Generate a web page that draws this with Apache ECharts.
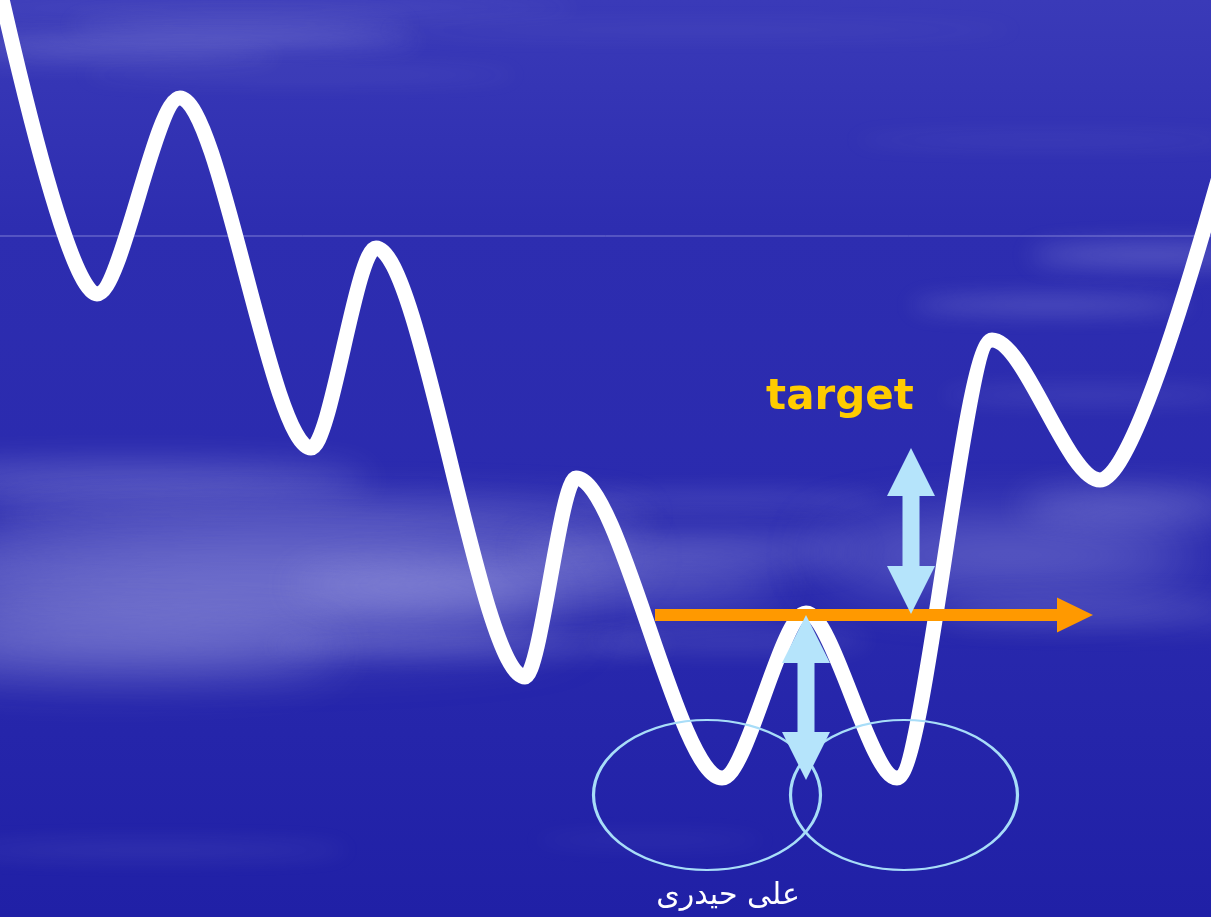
<!DOCTYPE html>
<html>
<head>
<meta charset="utf-8">
<script src="https://cdn.jsdelivr.net/npm/echarts@6/dist/echarts.min.js"></script>
<style>
html,body{margin:0;padding:0;background:#2a2ab0;}
#chart{width:1211px;height:917px;}
</style>
</head>
<body>
<div id="chart"></div>
<script>
// ---- data (chart units = picture pixels, y downward) ----
// turning points of the white curve (first and last lie just outside the frame)
const curveX = [-30, 97, 180, 311, 376, 525, 576, 722, 806, 897, 992, 1100, 1250];
const curveY = [-150, 294, 98, 448, 248, 677, 478, 778, 613, 778, 340, 480, 60];
const ruleY = 236;
const targetLevel = 615;
const targetRange = [655, 1093];
const upperGapX = 911;
const upperGap = [448, 614];
const lowerGapX = 806;
const lowerGap = [615, 780];
const basinX = [707, 904];
const basinY = [795, 795];
const labelTexts = ['target', 'علی حیدری'];
const labelX = [840, 728];
const labelY = [398, 896];

// ---- styles ----
const W = 1211, H = 917;
const curveData = curveX.map((x, i) => [x, curveY[i]]);
const orangeHead = 36, blueHead = 48;

function blueArrow(x, range) {
  return {
    type: 'line', z: 6, silent: true,
    data: [
      {value: [x, range[0] + blueHead / 2], symbol: 'triangle', symbolRotate: 0},
      {value: [x, range[1] - blueHead / 2], symbol: 'triangle', symbolRotate: 180}
    ],
    showSymbol: true, symbolSize: [48, blueHead],
    itemStyle: {color: '#b5e4fb', borderWidth: 0, opacity: 1},
    lineStyle: {color: '#b5e4fb', width: 17, cap: 'butt'}
  };
}

// soft cloud streaks (decoration)
const clouds = [
  [250, 8, 330, 5, 0.16], [240, 25, 170, 5, 0.22], [190, 41, 230, 6, 0.30], [120, 57, 160, 5, 0.20], [300, 75, 220, 5, 0.12],
  [700, 30, 320, 6, 0.08], [1050, 140, 200, 5, 0.10],
  [130, 480, 240, 14, 0.30], [320, 515, 330, 16, 0.22], [260, 555, 380, 22, 0.34], [230, 605, 330, 28, 0.50],
  [110, 650, 230, 22, 0.32], [540, 585, 250, 18, 0.30], [690, 550, 170, 14, 0.26], [720, 500, 160, 8, 0.16],
  [470, 645, 200, 10, 0.16], [730, 640, 140, 10, 0.14],
  [1150, 255, 120, 10, 0.26], [1050, 305, 140, 8, 0.22], [1090, 395, 150, 7, 0.14],
  [1010, 555, 190, 26, 0.36], [1130, 505, 110, 14, 0.28], [1100, 612, 160, 12, 0.18],
  [150, 850, 200, 8, 0.10], [650, 840, 120, 6, 0.07]
];
const graphics = clouds.map(c => ({
  type: 'ellipse', z: -10, silent: true,
  shape: {cx: c[0] - 4000, cy: c[1], rx: c[2], ry: c[3]},
  style: {fill: '#fff', shadowBlur: Math.max(22, c[3] * 2.4), shadowOffsetX: 4000, shadowColor: 'rgba(230,230,255,' + c[4] + ')'}
}));

const chart = echarts.init(document.getElementById('chart'), null, {renderer: 'canvas'});
chart.setOption({
  animation: false,
  backgroundColor: {
    type: 'linear', x: 0, y: 0, x2: 0, y2: 1,
    colorStops: [
      {offset: 0, color: '#3a3ab8'},
      {offset: 0.25, color: '#2d2db0'},
      {offset: 0.6, color: '#2a2aae'},
      {offset: 1, color: '#2020a6'}
    ]
  },
  graphic: graphics,
  grid: {left: 0, right: 0, top: 0, bottom: 0},
  xAxis: {type: 'value', min: 0, max: W, show: false},
  yAxis: {type: 'value', min: 0, max: H, inverse: true, show: false},
  series: [
    {
      type: 'line', z: 1, silent: true, symbol: 'none',
      data: [[0, ruleY], [W, ruleY]],
      lineStyle: {color: 'rgba(140,140,220,0.85)', width: 1}
    },
    {
      type: 'line', z: 3, silent: true, symbol: 'none',
      smooth: 0.3, smoothMonotone: 'x',
      data: curveData,
      lineStyle: {color: '#ffffff', width: 15, cap: 'butt', join: 'round'}
    },
    {
      type: 'scatter', z: 4, silent: true,
      symbol: 'path://M0,50 A50,50 0 1,1 100,50 A50,50 0 1,1 0,50 Z',
      symbolSize: [227, 150], symbolKeepAspect: false,
      data: basinX.map((x, i) => [x, basinY[i]]),
      itemStyle: {color: 'rgba(0,0,0,0)', borderColor: '#a8ddf8', borderWidth: 2.6, opacity: 1}
    },
    {
      type: 'line', z: 5, silent: true,
      data: [
        {value: [targetRange[0], targetLevel], symbol: 'none'},
        {value: [targetRange[1] - orangeHead / 2, targetLevel], symbol: 'triangle', symbolRotate: -90}
      ],
      showSymbol: true, symbolSize: [35, orangeHead],
      itemStyle: {color: '#ff9900', borderWidth: 0, opacity: 1},
      lineStyle: {color: '#ff9900', width: 12, cap: 'butt'}
    },
    blueArrow(upperGapX, upperGap),
    blueArrow(lowerGapX, lowerGap),
    {
      type: 'scatter', z: 7, silent: true, symbolSize: 0,
      itemStyle: {opacity: 1},
      data: [
        {value: [labelX[0], labelY[0]], name: labelTexts[0],
         label: {color: '#ffcc00', fontSize: 42, fontWeight: 'bold', fontFamily: 'DejaVu Sans'}},
        {value: [labelX[1], labelY[1]], name: labelTexts[1],
         label: {color: '#ffffff', fontSize: 30, fontWeight: 'normal', fontFamily: 'DejaVu Sans'}}
      ],
      label: {show: true, position: 'inside', formatter: p => p.name, textBorderWidth: 0, textShadowBlur: 0}
    }
  ]
});
</script>
</body>
</html>
